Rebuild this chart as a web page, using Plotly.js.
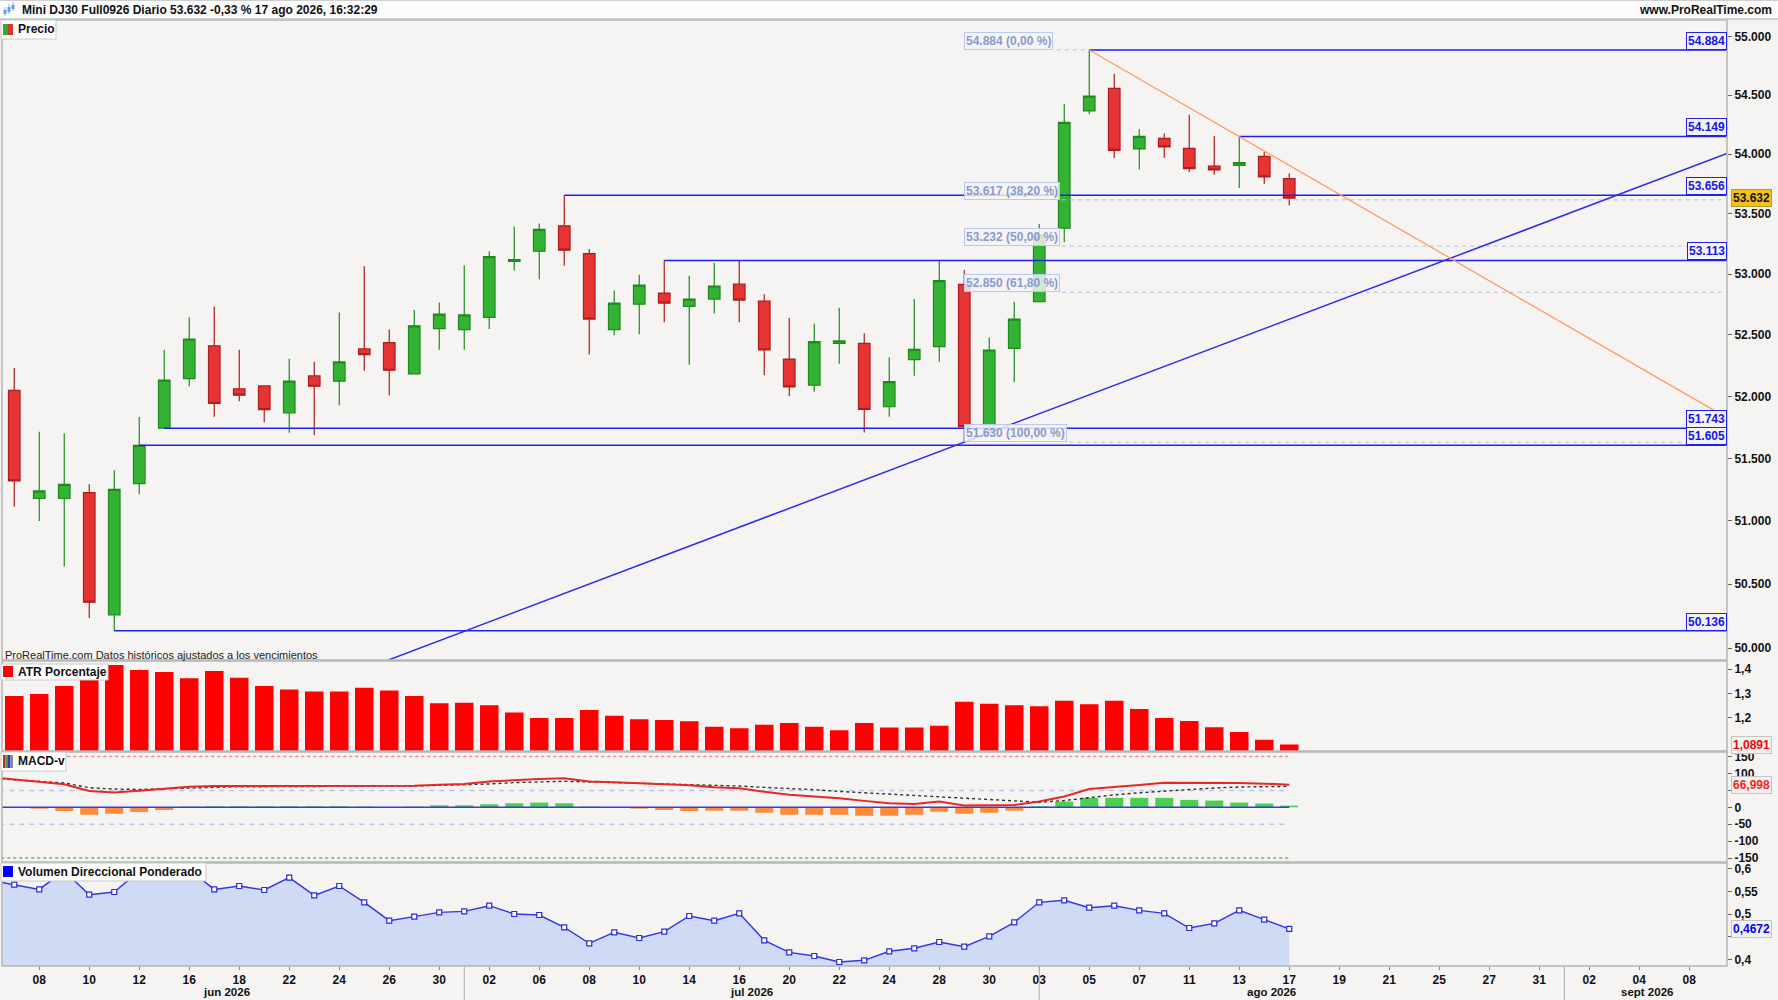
<!DOCTYPE html>
<html><head><meta charset="utf-8">
<script src="https://cdn.plot.ly/plotly-3.0.1.min.js"></script>
<style>html,body{margin:0;padding:0;background:#f5f4f2;}#chart{width:1778px;height:1000px;}</style>
</head><body><div id="chart"></div>
<script>
// ---------------- DATA ----------------
const dates = ['2026-06-05','2026-06-08','2026-06-09','2026-06-10','2026-06-11','2026-06-12','2026-06-15','2026-06-16','2026-06-17','2026-06-18','2026-06-19','2026-06-22','2026-06-23','2026-06-24','2026-06-25','2026-06-26','2026-06-29','2026-06-30','2026-07-01','2026-07-02','2026-07-03','2026-07-06','2026-07-07','2026-07-08','2026-07-09','2026-07-10','2026-07-13','2026-07-14','2026-07-15','2026-07-16','2026-07-17','2026-07-20','2026-07-21','2026-07-22','2026-07-23','2026-07-24','2026-07-27','2026-07-28','2026-07-29','2026-07-30','2026-07-31','2026-08-03','2026-08-04','2026-08-05','2026-08-06','2026-08-07','2026-08-10','2026-08-11','2026-08-12','2026-08-13','2026-08-14','2026-08-17'];
const openP  = [52048,51179,51179,51226,50260,51297,51743,52144,52411,52060,52085,51867,52166,52123,52386,52437,52182,52551,52543,52644,53105,53190,53400,53169,52543,52752,52844,52734,52794,52917,52778,52303,52090,52430,52431,51916,52298,52404,52916,51768,52391,52773,53380,54365,54557,54044,54133,54048,53900,53906,53982,53795];
const highP  = [52231,51714,51701,51292,51404,51834,52380,52646,52734,52380,52090,52306,52282,52684,53065,52545,52705,52766,53073,53190,53394,53420,53656,53207,52865,52994,53113,52986,53091,53113,52835,52638,52592,52722,52513,52317,52795,53113,53034,52480,52773,53416,54424,54884,54680,54209,54175,54333,54153,54149,54019,53840];
const lowP   = [51114,51000,50640,50235,50136,51212,51743,52082,51835,51960,51790,51705,51685,51929,52207,52007,52180,52380,52380,52548,53030,52958,53070,52340,52498,52505,52603,52256,52676,52603,52172,52001,52038,52264,51709,51836,52168,52282,51630,51700,52114,52770,53263,54336,53968,53872,53968,53850,53828,53715,53750,53570];
const closeP = [51319,51239,51292,50359,51252,51605,52131,52467,51942,52010,51892,52123,52082,52280,52340,52212,52575,52670,52664,53145,53120,53370,53198,52630,52761,52909,52761,52794,52902,52786,52377,52077,52445,52451,51895,52119,52383,52946,51755,52377,52630,53325,54268,54490,54032,54150,54062,53878,53867,53930,53810,53632];
const atrPct = [1.290,1.298,1.331,1.380,1.418,1.397,1.389,1.363,1.393,1.365,1.331,1.316,1.308,1.308,1.324,1.312,1.290,1.260,1.262,1.251,1.221,1.199,1.199,1.232,1.208,1.194,1.190,1.185,1.163,1.156,1.171,1.178,1.163,1.148,1.178,1.159,1.159,1.167,1.266,1.258,1.251,1.247,1.270,1.255,1.270,1.236,1.199,1.186,1.160,1.141,1.109,1.0891];
const macdLine   = [82,75,68,48,44,49,55,61,63,63,62,63,63,64,63,62,64,67,69,76,81,84,86,76,74,71,69,65,59,56,46,37,32,27,19,12,10,17,5,5,7,17,32,54,59,66,73,73,73,72,70,66.998];
const macdSignal = [81,76,72,58,54,53,55,58,60,61,61,61,61,61,61,63,63,65,66,69,73,75,77,75,73,71,70,69,67,63,59,56,52,47,43,38,33,29,25,21,17,15,20,29,37,43,48,52,57,60,62,62];
const macdHist   = [0.5,-4,-11,-22,-19,-14,-8,2,3,3,3,3,3,3,2,1,2,6,6,9,12,14,12,2,0.5,-4,-8,-11,-10,-10,-16,-22,-22,-22,-25,-25,-22,-13,-19,-16,-10,3,17,28,28,28,28,22,20,14,11,5];
const macdLevels = [150,50,-50,-150];
const volDir = [0.5647,0.5543,0.595,0.5426,0.5486,0.595,0.600,0.598,0.5543,0.5618,0.553,0.5802,0.5412,0.5618,0.5258,0.4853,0.4941,0.5037,0.5059,0.5183,0.500,0.4978,0.4706,0.4353,0.4596,0.447,0.461,0.4956,0.4852,0.5015,0.4419,0.4154,0.4073,0.394,0.3978,0.4177,0.4243,0.4382,0.4279,0.4507,0.4816,0.5258,0.5302,0.5139,0.5183,0.5081,0.5015,0.4691,0.4794,0.5081,0.4874,0.4672];
// values of the bar before the first visible one (lines enter from the left edge)
const prevMacd = 90, prevSignal = 86, prevVol = 0.575;
const levelValues = [54884,54149,53656,53113,51743,51605,50136];
const levelFromBar = [43,49,22,26,6,5,4];
const levelLabels = ['54.884','54.149','53.656','53.113','51.743','51.605','50.136'];
const fibValues = [54884,53617,53232,52850,51630];
const fibLabels = ['54.884 (0,00 %)','53.617 (38,20 %)','53.232 (50,00 %)','52.850 (61,80 %)','51.630 (100,00 %)'];
const fibFromBar = 38;
const trendUpX = [14,68.51],  trendUpY = [49836,54005];
const trendDownX = [43,68.51], trendDownY = [54884,51826];
const tickIdx  = [1,3,5,7,9,11,13,15,17,19,21,23,25,27,29,31,33,35,37,39,41,43,45,47,49,51,53,55,57,59,61,63,65,67];
const tickText = ['08','10','12','16','18','22','24','26','30','02','06','08','10','14','16','20','22','24','28','30','03','05','07','11','13','17','19','21','25','27','31','02','04','08'];
const monthLabels = ['jun 2026','jul 2026','ago 2026','sept 2026'];
const monthCenter = [8.5,29.5,50.3,65.3];
const monthFirstBar = [18,41,62];
const priceTicks = [50000,50500,51000,51500,52000,52500,53000,53500,54000,54500,55000];
const priceTickText = ['50.000','50.500','51.000','51.500','52.000','52.500','53.000','53.500','54.000','54.500','55.000'];
const lastPrice = 53632, lastPriceText = '53.632';
const titleText = 'Mini DJ30 Full0926 Diario 53.632 -0,33 % 17 ago 2026, 16:32:29';

// ---------------- LAYOUT HELPERS ----------------
const W=1778,H=1000,ML=2,MR=51,MT=20,MB=34;
const PW=W-ML-MR, PH=H-MT-MB;
const px = x => (x-ML)/PW;
const py = y => (H-MB-y)/PH;
const F = 'Liberation Sans, Arial, Helvetica, sans-serif';
const idx = dates.map((d,i)=>i);
const idxP = [-1].concat(idx);
const XR = [-0.49,68.51];
const BG = '#f5f4f2';

const traces = [];
traces.push({type:'candlestick', x:idx, open:openP, high:highP, low:lowP, close:closeP,
  xaxis:'x', yaxis:'y', whiskerwidth:0, line:{width:1.2},
  increasing:{fillcolor:'#33b233', line:{color:'#1e8a1e', width:1.2}},
  decreasing:{fillcolor:'#e63434', line:{color:'#b01c1c', width:1.2}},
  hoverinfo:'skip', showlegend:false});
const fibLineFrom = [41.7,41.9,41.9,41.9,42.2];
fibValues.forEach((v,k)=>traces.push({type:'scatter',mode:'lines',x:[fibLineFrom[k],XR[1]],y:[v,v],xaxis:'x',yaxis:'y',
  line:{color:'#b3c3ee',width:1,dash:'4px,4px'},hoverinfo:'skip',showlegend:false}));
levelValues.forEach((v,k)=>traces.push({type:'scatter',mode:'lines',x:[levelFromBar[k],XR[1]],y:[v,v],xaxis:'x',yaxis:'y',
  line:{color:'#2121ec',width:1.5},hoverinfo:'skip',showlegend:false}));
traces.push({type:'scatter',mode:'lines',x:trendUpX,y:trendUpY,xaxis:'x',yaxis:'y',line:{color:'#2b2bee',width:1.5},hoverinfo:'skip',showlegend:false});
traces.push({type:'scatter',mode:'lines',x:trendDownX,y:trendDownY,xaxis:'x',yaxis:'y',line:{color:'#ff9a66',width:1.3},hoverinfo:'skip',showlegend:false});
// ATR
traces.push({type:'bar',x:idx,y:atrPct,xaxis:'x',yaxis:'y2',width:0.74,marker:{color:'#ff0000',line:{width:0}},hoverinfo:'skip',showlegend:false});
// MACD
traces.push({type:'bar',x:idx,y:macdHist,xaxis:'x',yaxis:'y3',width:0.72,
  marker:{color:macdHist.map(v=>v>=0?'#4ccf4c':'#ff8a3c'),line:{width:0}},hoverinfo:'skip',showlegend:false});
const lvlColors = ['#ec8a8a','#b4c6f0','#b4c6f0','#5cbf5c'];
const lvlDash = ['3px,3px','5px,5px','5px,5px','3px,3px'];
macdLevels.forEach((v,k)=>traces.push({type:'scatter',mode:'lines',x:[-1,idx.length-1],y:[v,v],xaxis:'x',yaxis:'y3',
  line:{color:lvlColors[k],width:1.5,dash:lvlDash[k]},hoverinfo:'skip',showlegend:false}));
traces.push({type:'scatter',mode:'lines',x:[-1,idx.length-1],y:[0,0],xaxis:'x',yaxis:'y3',line:{color:'#3a3ae0',width:1.5},hoverinfo:'skip',showlegend:false});
traces.push({type:'scatter',mode:'lines',x:idxP,y:[prevSignal].concat(macdSignal),xaxis:'x',yaxis:'y3',line:{color:'#333333',width:1.4,dash:'3px,3px'},hoverinfo:'skip',showlegend:false});
traces.push({type:'scatter',mode:'lines',x:idxP,y:[prevMacd].concat(macdLine),xaxis:'x',yaxis:'y3',line:{color:'#e82828',width:2},hoverinfo:'skip',showlegend:false});
// Volume
traces.push({type:'scatter',mode:'lines',x:idxP,y:[prevVol].concat(volDir),xaxis:'x',yaxis:'y4',fill:'tozeroy',fillcolor:'#cfdbf4',
  line:{color:'#3434e6',width:1.4},hoverinfo:'skip',showlegend:false});
traces.push({type:'scatter',mode:'markers',x:idx,y:volDir,xaxis:'x',yaxis:'y4',
  marker:{symbol:'square',size:5,color:'#ffffff',line:{color:'#2a2ae0',width:1.2}},hoverinfo:'skip',showlegend:false});

const tf = {family:F,size:12,color:'#111',weight:'bold'};
const yCommon = {side:'right',anchor:'x',ticks:'outside',ticklen:4,tickcolor:'#666',tickfont:tf,showgrid:false,zeroline:false,fixedrange:true,showline:false};
const layout = {
  width:W,height:H,margin:{l:ML,r:MR,t:MT,b:MB},paper_bgcolor:BG,plot_bgcolor:BG,
  separators:',.',hovermode:false,dragmode:false,showlegend:false,boxgap:0.34,barmode:'overlay',
  xaxis:{range:XR,tickvals:tickIdx,ticktext:tickText,ticks:'outside',ticklen:3,tickcolor:'#888',tickfont:tf,
    showgrid:false,zeroline:false,anchor:'y4',rangeslider:{visible:false},fixedrange:true,showline:false},
  yaxis:Object.assign({},yCommon,{domain:[py(660),1],type:'log',range:[4.698162,4.741473],tickvals:priceTicks,ticktext:priceTickText}),
  yaxis2:Object.assign({},yCommon,{domain:[py(751),py(661)],range:[1.0624,1.434],tickvals:[1.2,1.3,1.4],ticktext:['1,2','1,3','1,4']}),
  yaxis3:Object.assign({},yCommon,{domain:[py(862),py(752)],range:[-161.8,163.6],tickvals:[-150,-100,-50,0,50,100,150],ticktext:['-150','-100','-50','0','','100','150']}),
  yaxis4:Object.assign({},yCommon,{domain:[0,py(863)],range:[0.3852,0.6126],tickvals:[0.4,0.45,0.5,0.55,0.6],ticktext:['0,4','','0,5','0,55','0,6']}),
  shapes:[],annotations:[]
};
const S = layout.shapes, A = layout.annotations;
[[20,660],[661,751],[752,862],[863,966]].forEach(([t,b])=>S.push({type:'rect',xref:'paper',yref:'paper',x0:0,x1:1,y0:py(b),y1:py(t),line:{color:'#b5b5b5',width:1.5},layer:'above'}));
// header
S.push({type:'rect',xref:'paper',yref:'paper',x0:px(-2),x1:px(W+2),y0:py(19),y1:py(0),fillcolor:'#fcfcfc',line:{width:0}});
S.push({type:'line',xref:'paper',yref:'paper',x0:px(0),x1:px(W),y0:py(19),y1:py(19),line:{color:'#c2c2c2',width:1.5}});
S.push({type:'line',xref:'paper',yref:'paper',x0:px(0),x1:px(W),y0:py(0.5),y1:py(0.5),line:{color:'#cfcfcf',width:1}});
[[5,8,14],[9,5,12],[13,3,9]].forEach(([x,t,b])=>{
  S.push({type:'line',xref:'paper',yref:'paper',x0:px(x),x1:px(x),y0:py(b+2),y1:py(t-1),line:{color:'#8ab8ee',width:1}});
  S.push({type:'rect',xref:'paper',yref:'paper',x0:px(x-1.5),x1:px(x+1.5),y0:py(b),y1:py(t+2),fillcolor:'#5aa0ea',line:{width:0}});
});
A.push({xref:'paper',yref:'paper',x:px(20),y:py(10),xanchor:'left',yanchor:'middle',showarrow:false,text:'<b>'+titleText+'</b>',font:{family:F,size:12,color:'#111'}});
A.push({xref:'paper',yref:'paper',x:px(1774),y:py(10),xanchor:'right',yanchor:'middle',showarrow:false,text:'<b>www.ProRealTime.com</b>',font:{family:F,size:12,color:'#111'}});
function legendBox(x0,x1,t,b,label){
  S.push({type:'rect',xref:'paper',yref:'paper',x0:px(x0),x1:px(x1),y0:py(b),y1:py(t),fillcolor:'#ffffff',line:{color:'#c8c8c8',width:1},layer:'above'});
  A.push({xref:'paper',yref:'paper',x:px(16),y:py((t+b)/2),xanchor:'left',yanchor:'middle',showarrow:false,text:'<b>'+label+'</b>',font:{family:F,size:12,color:'#111'}});
}
function iconRect(x0,x1,t,b,c){S.push({type:'rect',xref:'paper',yref:'paper',x0:px(x0),x1:px(x1),y0:py(b),y1:py(t),fillcolor:c,line:{width:0},layer:'above'});}
legendBox(1,56,20,39,'Precio'); iconRect(3,8,24,35,'#2fae2f'); iconRect(8,13,24,35,'#e03030');
legendBox(1,108,664,680,'ATR Porcentaje'); iconRect(3,13,666,677,'#ff0000');
legendBox(1,66,752,771,'MACD-v'); iconRect(3,5.5,755,768,'#e02020'); iconRect(5.5,8,755,768,'#30b030'); iconRect(8,10.5,755,768,'#3030e0'); iconRect(10.5,13,755,768,'#888888');
legendBox(1,206,863,881,'Volumen Direccional Ponderado'); iconRect(3,13,866,877,'#0000ff');
A.push({xref:'paper',yref:'paper',x:px(3),y:py(655),xanchor:'left',yanchor:'middle',showarrow:false,text:'ProRealTime.com Datos históricos ajustados a los vencimientos',font:{family:F,size:11,color:'#222'}});
fibValues.forEach((v,k)=>A.push({xref:'x',yref:'y',x:fibFromBar,y:Math.log10(v),xanchor:'left',yanchor:'bottom',showarrow:false,
  text:'<b>'+fibLabels[k]+'</b>',font:{family:F,size:12,color:'#8a9ad0'},bgcolor:'rgba(245,244,242,0.82)',bordercolor:'#b9c8f0',borderwidth:1,borderpad:1}));
levelValues.forEach((v,k)=>A.push({xref:'paper',yref:'y',x:1,y:Math.log10(v),xanchor:'right',yanchor:'bottom',showarrow:false,
  text:'<b>'+levelLabels[k]+'</b>',font:{family:F,size:12,color:'#1414f0'},bgcolor:BG,bordercolor:'#2020ee',borderwidth:1,borderpad:1}));
function valBox(yref,y,text,color,bg,border){
  A.push({xref:'paper',yref:yref,x:px(1731),y:y,xanchor:'left',yanchor:'middle',showarrow:false,text:'<b>'+text+'</b>',
    font:{family:F,size:12,color:color},bgcolor:bg,bordercolor:border,borderwidth:1,borderpad:1});
}
valBox('y',Math.log10(lastPrice),lastPriceText,'#111','#f5c211','#b09a40');
valBox('y2',atrPct[atrPct.length-1],String(atrPct[atrPct.length-1]).replace('.',','),'#ff0000','#f2f2f2','#c4c4c4');
valBox('y3',macdLine[macdLine.length-1],String(macdLine[macdLine.length-1]).replace('.',','),'#ff2020','#f2f2f2','#c4c4c4');
valBox('y4',volDir[volDir.length-1],String(volDir[volDir.length-1]).replace('.',','),'#0000ff','#f2f2f2','#c4c4c4');
monthLabels.forEach((m,k)=>A.push({xref:'x',yref:'paper',x:monthCenter[k],y:py(992),xanchor:'center',yanchor:'middle',showarrow:false,
  text:'<b>'+m+'</b>',font:{family:F,size:11.5,color:'#111'}}));
monthFirstBar.forEach(i=>S.push({type:'line',xref:'x',yref:'paper',x0:i,x1:i,y0:py(966),y1:py(1000),line:{color:'#aaaaaa',width:1}}));

Plotly.newPlot('chart',traces,layout,{staticPlot:true,displayModeBar:false});
</script></body></html>
